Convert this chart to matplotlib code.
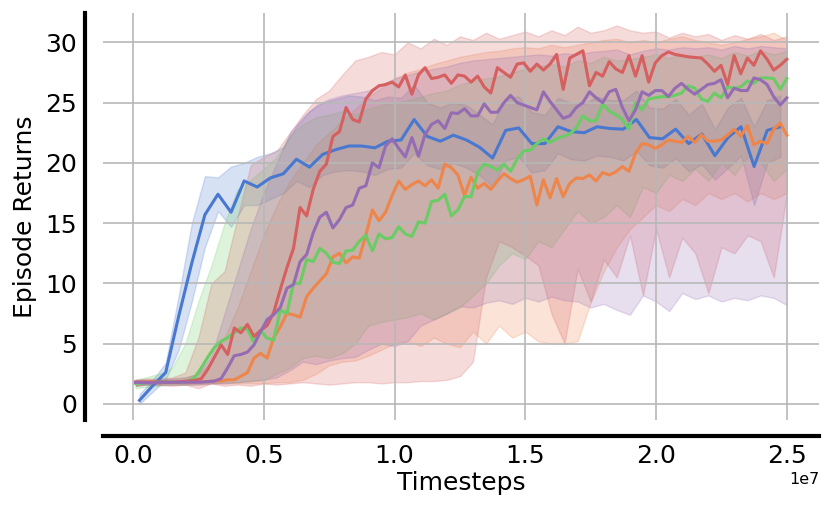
import numpy as np
import matplotlib
matplotlib.use("Agg")
import matplotlib.pyplot as plt

# timesteps (in units of 1e7) for the four finely logged runs and the blue run
steps = np.linspace(0.01, 2.5, 100)
blue_steps = np.arange(0.025, 2.5, 0.05)
band_steps = np.concatenate([[0.01], np.arange(0.05, 2.501, 0.05)])

blue_mean = [0.3, 1.5, 2.6, 7.3, 11.7, 15.7, 17.4, 15.9, 18.5, 18.0,
             18.75, 19.1, 20.3, 19.65, 20.7, 21.1, 21.4, 21.4, 21.25, 21.8,
             21.9, 23.6, 22.2, 21.8, 22.3, 21.9, 21.3, 20.4, 22.7, 22.9,
             21.6, 21.6, 23.0, 22.6, 22.5, 23.0, 22.85, 22.8, 23.6, 22.1,
             22.0, 22.8, 21.6, 22.4, 20.6, 22.1, 23.0, 19.7, 22.7, 23.0]
blue_lo = [0.0, 1.0, 2.0, 4.5, 8.5, 13.0, 16.0, 14.7, 16.5, 16.5,
           17.0, 17.5, 18.5, 18.0, 19.0, 19.3, 19.4, 19.3, 19.0, 19.5,
           19.6, 20.8, 19.8, 19.5, 20.0, 19.6, 19.0, 18.0, 20.2, 20.5,
           19.2, 19.4, 20.8, 20.3, 20.2, 20.6, 20.5, 20.2, 21.0, 19.8,
           19.6, 20.4, 19.3, 19.9, 18.6, 19.6, 20.6, 16.5, 20.0, 20.5]
blue_hi = [0.8, 2.0, 3.4, 9.0, 15.0, 18.9, 18.8, 19.7, 20.0, 20.5,
           20.8, 21.3, 23.0, 24.3, 25.0, 25.3, 25.6, 25.5, 25.2, 25.5,
           25.4, 26.5, 25.0, 24.6, 25.0, 24.8, 24.0, 23.2, 25.4, 25.5,
           24.2, 24.0, 25.4, 25.0, 24.9, 25.5, 25.2, 25.2, 26.0, 24.6,
           24.5, 25.3, 24.0, 24.9, 22.8, 24.6, 25.4, 23.0, 25.2, 25.6]

orange_mean = [1.8, 1.8, 1.8, 1.8, 1.8, 1.8, 1.8, 1.8, 1.8, 1.8,
               1.85, 1.85, 1.9, 1.9, 2.0, 2.0, 2.3, 2.6, 3.8, 4.2,
               3.8, 5.5, 6.4, 7.5, 7.4, 7.2, 8.9, 9.6, 10.2, 10.8,
               12.2, 12.5, 11.7, 12.2, 12.1, 14.0, 16.1, 15.2, 15.9, 17.3,
               18.5, 17.8, 18.2, 18.5, 18.1, 18.6, 17.9, 19.9, 19.6, 19.0,
               17.3, 18.8, 17.9, 18.3, 17.8, 18.5, 19.1, 18.7, 18.4, 18.6,
               18.9, 16.5, 18.6, 17.1, 18.7, 17.2, 18.3, 18.75, 18.7, 19.0,
               18.5, 19.2, 19.0, 19.25, 19.7, 19.3, 20.8, 21.6, 21.5, 21.2,
               21.5, 21.9, 21.8, 21.7, 22.2, 21.7, 22.35, 21.8, 21.8, 21.9,
               22.3, 22.8, 22.2, 23.1, 21.5, 21.8, 21.6, 22.8, 23.3, 22.3]
orange_lo = [1.5, 1.6, 1.6, 1.6, 1.6, 1.6, 1.7, 1.7, 1.7, 1.7,
             1.7, 1.8, 1.8, 2.0, 2.5, 3.2, 3.5, 3.6, 4.0, 4.5,
             5.0, 5.2, 4.8, 5.5, 5.0, 4.7, 6.0, 5.0, 6.5, 5.5,
             6.0, 5.2, 5.0, 5.0, 5.2, 8.4, 11.0, 13.0, 14.5, 15.5,
             16.5, 16.0, 17.0, 16.5, 17.5, 17.0, 17.5, 16.8, 17.5, 17.0,
             17.5]
orange_hi = [2.0, 2.0, 2.0, 2.1, 2.2, 2.5, 3.5, 5.5, 8.0, 11.0,
             14.0, 16.5, 18.5, 20.0, 21.5, 22.5, 23.5, 24.5, 25.5, 26.2,
             27.0, 27.5, 27.8, 28.2, 28.5, 28.8, 29.0, 29.2, 29.3, 29.5,
             29.6, 29.5, 29.8, 29.6, 29.8, 30.0, 30.2, 30.3, 30.0, 30.2,
             30.0, 30.3, 30.5, 30.2, 30.0, 29.8, 30.0, 30.3, 30.5, 30.8,
             30.2]

green_mean = [1.7, 1.7, 1.75, 1.8, 1.8, 1.8, 1.8, 1.8, 1.9, 2.2,
              3.0, 3.9, 4.7, 5.2, 5.5, 5.9, 6.3, 6.2, 5.1, 6.1,
              5.45, 5.3, 7.8, 7.5, 10.0, 10.0, 12.0, 11.8, 12.9, 12.5,
              11.75, 11.65, 12.7, 12.75, 13.5, 14.0, 12.7, 14.1, 13.7, 13.8,
              14.7, 14.1, 13.9, 15.1, 15.0, 16.8, 16.9, 17.4, 15.6, 16.1,
              17.2, 17.2, 19.2, 19.9, 19.7, 19.4, 19.9, 19.3, 20.3, 21.0,
              21.05, 21.6, 22.0, 21.7, 22.0, 22.2, 22.4, 22.9, 23.9, 23.5,
              23.5, 24.9, 24.3, 24.0, 23.6, 22.8, 25.0, 24.4, 25.3, 25.4,
              25.5, 25.5, 25.6, 25.8, 26.4, 26.2, 25.3, 25.1, 25.8, 25.4,
              26.3, 26.2, 26.3, 26.8, 26.6, 27.05, 27.05, 27.0, 26.1, 27.0]
green_lo = [1.3, 1.4, 1.5, 1.6, 1.6, 1.7, 1.7, 1.8, 1.8, 1.9,
            2.0, 2.5, 3.0, 3.8, 4.0, 3.8, 4.2, 5.0, 6.5, 6.8,
            7.0, 7.2, 7.5, 7.0, 7.5, 8.0, 9.0, 10.0, 11.5, 12.5,
            12.0, 13.5, 13.0, 14.5, 16.0, 15.0, 15.5, 16.5, 15.5, 18.0,
            17.5, 19.0, 18.5, 19.5, 18.5, 20.0, 19.0, 20.5, 20.0, 18.5,
            19.5]
green_hi = [2.0, 2.2, 2.5, 3.0, 5.0, 8.5, 11.5, 15.0, 17.8, 18.6,
            19.5, 20.5, 22.3, 23.2, 23.8, 24.0, 24.3, 24.0, 24.5, 24.8,
            25.0, 25.2, 25.5, 25.8, 26.0, 26.5, 26.8, 27.0, 27.2, 27.5,
            27.8, 28.0, 28.2, 28.0, 28.5, 28.3, 28.8, 28.5, 28.6, 28.8,
            29.0, 28.7, 29.0, 28.8, 29.0, 28.7, 29.2, 28.9, 29.3, 29.0,
            29.3]

red_mean = [1.8, 1.8, 1.8, 1.8, 1.8, 1.8, 1.8, 1.85, 1.9, 1.95,
            2.1, 2.9, 3.9, 4.9, 4.1, 6.3, 5.9, 6.6, 5.6, 6.1,
            6.5, 7.6, 9.5, 11.3, 12.9, 16.3, 15.6, 17.8, 19.3, 19.9,
            22.2, 22.6, 24.6, 23.6, 23.4, 25.3, 26.0, 26.4, 26.5, 26.7,
            26.3, 27.3, 25.7, 27.3, 27.9, 27.0, 27.1, 27.3, 26.6, 27.3,
            27.2, 26.7, 27.2, 26.3, 25.8, 27.9, 27.5, 27.1, 28.2, 28.3,
            27.6, 28.2, 27.7, 28.2, 29.0, 26.1, 28.7, 29.0, 29.3, 26.4,
            27.5, 27.2, 28.4, 27.8, 27.5, 28.9, 27.2, 28.9, 26.7, 28.3,
            28.9, 29.2, 29.0, 28.9, 28.8, 28.75, 28.7, 28.2, 27.6, 28.1,
            26.5, 28.9, 27.4, 28.7, 28.1, 29.3, 28.6, 27.7, 28.1, 28.6]
red_lo = [1.5, 1.6, 1.6, 1.5, 1.6, 1.3, 1.7, 1.5, 1.6, 1.5,
          1.7, 1.6, 1.7, 1.8, 1.7, 1.6, 1.7, 1.8, 1.8, 1.7,
          1.8, 1.8, 1.9, 1.9, 2.0, 2.3, 3.5, 10.5, 13.5, 13.0,
          12.3, 11.5, 7.5, 5.0, 11.2, 8.5, 12.0, 10.5, 14.0, 9.0,
          14.5, 10.5, 13.8, 12.5, 9.2, 13.0, 12.5, 14.0, 13.5, 10.5,
          17.4]
red_hi = [2.0, 2.1, 2.1, 2.2, 2.6, 5.5, 10.0, 11.0, 15.5, 19.8,
          20.5, 21.0, 22.5, 24.0, 25.3, 26.0, 27.3, 28.5, 28.8, 29.2,
          29.0, 30.0, 29.5, 30.3, 29.8, 30.5, 30.2, 30.8, 30.3, 30.6,
          30.9, 30.5, 31.0, 30.6, 31.3, 30.8, 31.0, 31.4, 31.0, 30.8,
          30.9, 30.4, 30.8, 30.5, 30.7, 30.2, 30.6, 30.3, 30.7, 30.2,
          30.5]

purple_mean = [1.8, 1.75, 1.75, 1.75, 1.8, 1.8, 1.8, 1.8, 1.8, 1.8,
               1.8, 1.85, 1.9, 2.1, 3.0, 4.0, 4.1, 4.3, 4.9, 6.0,
               7.0, 7.4, 8.0, 9.6, 9.9, 11.8, 12.4, 14.2, 15.5, 15.9,
               14.6, 15.3, 16.3, 16.5, 17.9, 18.1, 20.0, 19.6, 21.4, 22.0,
               21.2, 20.5, 22.1, 20.55, 22.35, 23.2, 23.5, 22.85, 24.15, 24.1,
               24.5, 23.9, 23.9, 24.9, 24.2, 24.2, 25.0, 25.6, 25.0, 24.8,
               24.6, 24.4, 25.9, 25.1, 24.4, 23.7, 23.9, 24.6, 25.0, 25.9,
               25.4, 25.0, 25.9, 26.1, 24.6, 23.5, 24.4, 25.9, 25.6, 26.0,
               26.0, 25.5, 26.2, 26.6, 26.1, 25.7, 26.1, 26.5, 26.6, 26.9,
               25.4, 26.2, 26.0, 26.0, 27.05, 26.9, 26.5, 25.5, 24.8, 25.4]
purple_lo = [1.5, 1.6, 1.6, 1.6, 1.6, 1.6, 1.7, 1.7, 1.8, 1.9,
             2.0, 2.2, 2.8, 3.5, 3.3, 3.6, 3.8, 3.9, 4.5, 5.0,
             4.8, 5.2, 6.5, 7.0, 7.5, 8.1, 8.0, 8.4, 8.6, 8.3,
             8.8, 8.5, 8.9, 8.6, 8.5, 8.0, 8.3, 7.8, 7.4, 9.0,
             8.5, 7.7, 9.2, 8.7, 9.0, 8.5, 8.8, 8.6, 9.0, 8.8,
             8.2]
purple_hi = [2.0, 2.0, 2.0, 2.1, 2.2, 2.5, 4.0, 7.5, 11.0, 14.5,
             17.5, 20.0, 22.5, 23.8, 24.8, 25.3, 25.6, 25.8, 26.0, 26.5,
             27.0, 27.3, 27.6, 27.8, 28.0, 28.3, 28.5, 28.6, 28.7, 28.8,
             28.9, 29.0, 28.9, 29.1, 29.0, 29.2, 29.3, 29.4, 29.0, 29.3,
             29.5, 29.4, 29.6, 29.5, 29.6, 29.4, 29.7, 29.5, 29.7, 29.6,
             29.5]

runs = [
    (blue_steps, blue_mean, blue_steps, blue_lo, blue_hi, "#4878d0"),
    (steps, orange_mean, band_steps, orange_lo, orange_hi, "#ee854a"),
    (steps, green_mean, band_steps, green_lo, green_hi, "#6acc64"),
    (steps, red_mean, band_steps, red_lo, red_hi, "#d65f5f"),
    (steps, purple_mean, band_steps, purple_lo, purple_hi, "#956cb4"),
]

fig = plt.figure(figsize=(8.31, 5.14), dpi=100)
ax = fig.add_axes([0.124, 0.183, 0.862, 0.792])

for x, mean, bx, lo, hi, color in runs:
    ax.fill_between(np.array(bx) * 1e7, lo, hi, color=color, alpha=0.22)
for x, mean, bx, lo, hi, color in runs:
    ax.plot(np.array(x) * 1e7, mean, color=color, lw=2.2)

ax.set_xlim(-0.1145e7, 2.6245e7)
ax.set_ylim(-1.33, 32.45)
ax.set_xticks(np.arange(0, 2.51e7, 0.5e7))
ax.set_yticks(np.arange(0, 31, 5))
ax.grid(True, color="#b8b8b8", lw=1.2)

for side in ["top", "right"]:
    ax.spines[side].set_visible(False)
ax.spines["left"].set_position(("outward", 13))
ax.spines["bottom"].set_position(("outward", 11.5))
for side in ["left", "bottom"]:
    ax.spines[side].set_linewidth(3)
    ax.spines[side].set_color("black")

ax.tick_params(axis="both", length=0, labelsize=18)
ax.tick_params(axis="x", pad=6)
ax.tick_params(axis="y", pad=5.5)
ax.xaxis.get_offset_text().set_fontsize(11.5)

ax.set_xlabel("Timesteps", fontsize=18, labelpad=2)
ax.set_ylabel("Episode Returns", fontsize=18, labelpad=6)

fig.savefig("out.png", dpi=100)
